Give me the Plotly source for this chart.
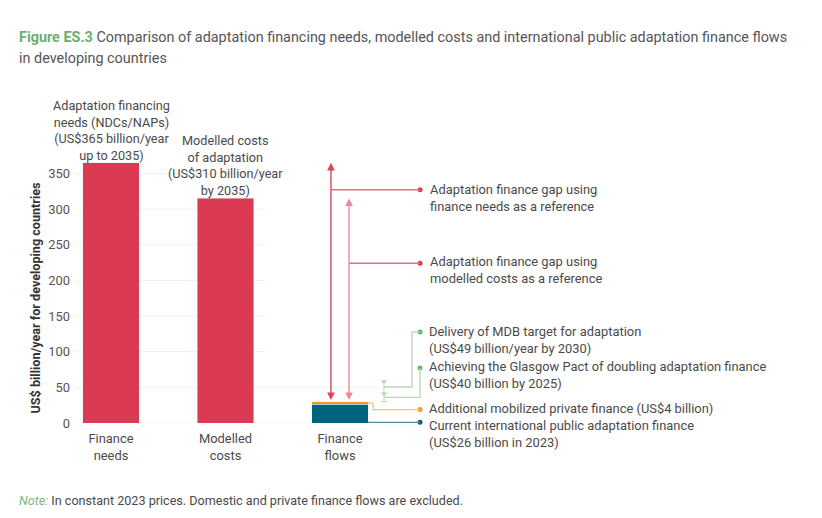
import plotly.graph_objects as go

# data
categories = ['Finance<br>needs', 'Modelled<br>costs', 'Finance<br>flows']
finance_needs = 365
modelled_costs = 315
public_flows = 26
private_flows = 4
glasgow_mark = 42
mdb_mark = 59
y_ticks = [0, 50, 100, 150, 200, 250, 300, 350]

title_1 = '<b><span style="color:#6DAE6D">Figure ES.3</span></b> Comparison of adaptation financing needs, modelled costs and international public adaptation finance flows'
title_2 = 'in developing countries'
needs_label = 'Adaptation financing<br>needs (NDCs/NAPs)<br>(US$365 billion/year<br>up to 2035)'
costs_label = 'Modelled costs<br>of adaptation<br>(US$310 billion/year<br>by 2035)'
gap_needs_label = 'Adaptation finance gap using<br>finance needs as a reference'
gap_costs_label = 'Adaptation finance gap using<br>modelled costs as a reference'
mdb_label = 'Delivery of MDB target for adaptation<br>(US$49 billion/year by 2030)'
glasgow_label = 'Achieving the Glasgow Pact of doubling adaptation finance<br>(US$40 billion by 2025)'
private_label = 'Additional mobilized private finance (US$4 billion)'
public_label = 'Current international public adaptation finance<br>(US$26 billion in 2023)'
note = '<i><span style="color:#7DB87D">Note:</span></i> In constant 2023 prices. Domestic and private finance flows are excluded.'

RED = '#DA3B52'
TEAL = '#00637D'
ORANGE = '#F7941D'
GREEN = '#6BB26B'
GREEN_LINE = '#B8D9B2'
TXT = '#4a4a4a'
FONT = 'Roboto'
LBL = 12.9

flows_top = public_flows + private_flows
xs = [0, 1, 2]

fig = go.Figure()
fig.add_trace(go.Bar(x=xs[:2], y=[finance_needs, modelled_costs], marker_color=RED,
                     width=0.49, hoverinfo='skip'))
fig.add_trace(go.Bar(x=[xs[2]], y=[public_flows], marker_color=TEAL, width=0.49, hoverinfo='skip'))
fig.add_trace(go.Bar(x=[xs[2]], y=[private_flows], marker_color=ORANGE, width=0.49, hoverinfo='skip'))

shapes = []
# light gridlines
for v in y_ticks:
    x1 = 2.35 if v <= 50 else 1.345
    shapes.append(dict(type='line', xref='x', yref='y', x0=-0.306, x1=x1, y0=v, y1=v,
                       line=dict(color='#f0f0f0', width=1), layer='below'))

ann = []
# labels above the red bars
ann.append(dict(x=0, y=finance_needs, text=needs_label, showarrow=False, yanchor='bottom',
                font=dict(size=12.7, color=TXT), yshift=-2))
ann.append(dict(x=1, y=modelled_costs, text=costs_label, showarrow=False, yanchor='bottom',
                font=dict(size=12.7, color=TXT), yshift=-2))

# gap arrows
x_dot = 2.699
x_txt = 2.769
gaps = [(1.921, finance_needs, 327, 315, gap_needs_label, '#D9475C'),
        (2.079, modelled_costs, 224, 214, gap_costs_label, '#EC8C98')]
for xa, top, y_line, y_text, label, col in gaps:
    ann.append(dict(x=xa, y=top, ax=xa, ay=flows_top, xref='x', yref='y', axref='x', ayref='y',
                    text='', showarrow=True, arrowhead=2, arrowside='end+start', arrowsize=1.1,
                    arrowwidth=1.4, arrowcolor=col, standoff=0, startstandoff=0))
    shapes.append(dict(type='line', xref='x', yref='y', x0=xa, x1=x_dot, y0=y_line, y1=y_line,
                       line=dict(color='#E5707F', width=1.5)))
    ann.append(dict(x=x_txt, y=y_text, text=label, showarrow=False, xanchor='left', yanchor='middle',
                    align='left', font=dict(size=LBL, color=TXT)))

# green target markers
x_g = 2.384
for lo, hi in [(flows_top, glasgow_mark), (glasgow_mark, mdb_mark)]:
    shapes.append(dict(type='line', xref='x', yref='y', x0=x_g, x1=x_g, y0=lo, y1=hi,
                       line=dict(color=GREEN_LINE, width=1)))
for v in [flows_top, glasgow_mark, mdb_mark]:
    shapes.append(dict(type='line', xref='x', yref='y', x0=x_g - 0.03, x1=x_g + 0.03, y0=v, y1=v,
                       line=dict(color=GREEN_LINE, width=1)))
fig.add_trace(go.Scatter(x=[x_g, x_g], y=[glasgow_mark - 1.5, mdb_mark - 1.5], mode='markers',
                         marker=dict(symbol='triangle-down', size=4, color='#9CCB95'),
                         hoverinfo='skip'))

mdb_mid = (glasgow_mark + mdb_mark) / 2
gl_mid = (flows_top + glasgow_mark) / 2
shapes.append(dict(type='path', xref='x', yref='y',
                   path=f'M {x_g},{mdb_mid} L 2.629,{mdb_mid} L 2.629,127.7 L {x_dot},127.7',
                   line=dict(color=GREEN_LINE, width=1.3)))
shapes.append(dict(type='path', xref='x', yref='y',
                   path=f'M {x_g},{gl_mid} L {x_dot},{gl_mid} L {x_dot},77.2',
                   line=dict(color=GREEN_LINE, width=1.3)))

# orange and teal leaders
shapes.append(dict(type='path', xref='x', yref='y',
                   path=f'M 2.245,{public_flows + 2} L 2.288,{public_flows + 2} L 2.288,18.8 L {x_dot},18.8',
                   line=dict(color='#FBC07B', width=1.3)))
shapes.append(dict(type='line', xref='x', yref='y', x0=2.245, x1=x_dot, y0=1, y1=1,
                   line=dict(color='#5C87A1', width=1.3)))

# dots at the end of each leader
dots_y = [327, 224, 127.7, 77.2, 18.8, 1]
dots_c = [RED, RED, GREEN, GREEN, ORANGE, TEAL]
fig.add_trace(go.Scatter(x=[x_dot] * len(dots_y), y=dots_y, mode='markers',
                         marker=dict(color=dots_c, size=5), hoverinfo='skip', cliponaxis=False))

for y_text, label in [(116, mdb_label), (67, glasgow_label), (19.8, private_label)]:
    ann.append(dict(x=x_txt, y=y_text, text=label, showarrow=False, xanchor='left', yanchor='middle',
                    align='left', borderpad=0, font=dict(size=LBL, color=TXT)))


# page pixel -> paper coords (page has an 8px body margin; plot spans 76..810 px, 152..423 px)
def px_x(p):
    return (p - 76) / 734


def px_y(p):
    return (423 - p) / 271


ann.append(dict(xref='x', yref='paper', x=x_txt, y=px_y(433.5), text=public_label, showarrow=False,
                xanchor='left', yanchor='middle', align='left', borderpad=0, font=dict(size=LBL, color=TXT)))
ann.append(dict(xref='paper', yref='paper', x=px_x(25), y=px_y(298), text='<b>US$ billion/year for developing countries</b>',
                textangle=-90, showarrow=False, font=dict(size=12.6, color='#333')))
ann.append(dict(xref='paper', yref='paper', x=px_x(17), y=px_y(37), xanchor='left', yanchor='middle',
                text=title_1, showarrow=False, font=dict(size=14.4, color='#555')))
ann.append(dict(xref='paper', yref='paper', x=px_x(17), y=px_y(58), xanchor='left', yanchor='middle',
                text=title_2, showarrow=False, font=dict(size=14.4, color='#555')))
ann.append(dict(xref='paper', yref='paper', x=px_x(17), y=px_y(500), xanchor='left', yanchor='middle',
                text=note, showarrow=False, font=dict(size=12.6, color=TXT)))

fig.update_layout(
    width=814, height=510,
    margin=dict(l=68, r=12, t=144, b=95),
    paper_bgcolor='white', plot_bgcolor='white',
    barmode='stack', showlegend=False,
    font=dict(family=FONT, color=TXT),
    shapes=shapes, annotations=ann,
)
fig.update_xaxes(range=[-0.306, 6.105], tickvals=xs, ticktext=categories, showgrid=False,
                 zeroline=False, showline=False, automargin=False,
                 tickfont=dict(size=12.9, color=TXT), ticks='', ticklabelstandoff=6)
fig.update_yaxes(range=[0, 380], tickvals=y_ticks, showgrid=False, zeroline=False, showline=False,
                 automargin=False, tickfont=dict(size=12.9, color='#555'), ticks='',
                 ticklabelstandoff=5)

fig.write_html('out.html')
